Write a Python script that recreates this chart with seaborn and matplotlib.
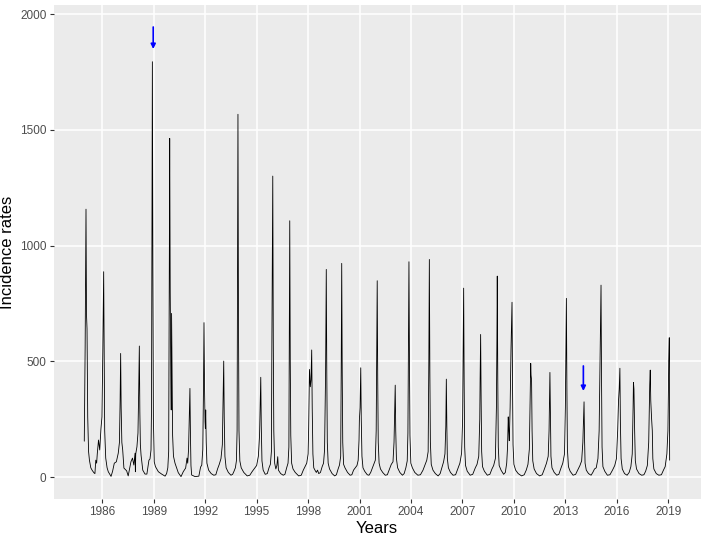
import matplotlib
matplotlib.use("Agg")
import matplotlib.pyplot as plt
import seaborn as sns
import pandas as pd

# ---------------- Data (decimal year, incidence rate) ----------------
pts_1985_1994 = [
    (1984.95, 155), (1985.00, 560), (1985.05, 1157), (1985.08, 700), (1985.11, 640),
    (1985.15, 260), (1985.20, 110), (1985.25, 73), (1985.33, 40), (1985.42, 28),
    (1985.52, 18), (1985.57, 15), (1985.62, 73), (1985.67, 60), (1985.71, 103),
    (1985.78, 160), (1985.85, 117), (1985.92, 207), (1985.98, 260),
    (1986.03, 540), (1986.08, 887), (1986.11, 520), (1986.14, 200), (1986.20, 82),
    (1986.28, 40), (1986.35, 23), (1986.51, 3), (1986.60, 25), (1986.70, 60),
    (1986.82, 66), (1986.93, 103), (1987.00, 150),
    (1987.04, 330), (1987.07, 534), (1987.10, 300), (1987.14, 150), (1987.19, 117),
    (1987.26, 39), (1987.42, 27), (1987.51, 5), (1987.60, 40), (1987.67, 66),
    (1987.76, 82), (1987.84, 52), (1987.91, 103), (1987.93, 23), (1987.95, 100),
    (1988.02, 131), (1988.08, 190),
    (1988.12, 360), (1988.16, 566), (1988.19, 280), (1988.22, 140), (1988.26, 95),
    (1988.36, 30), (1988.49, 13), (1988.60, 13), (1988.72, 73), (1988.78, 78),
    (1988.84, 117), (1988.87, 300),
    (1988.90, 1100), (1988.92, 1794), (1988.95, 900), (1988.98, 250), (1989.03, 65),
    (1989.10, 45), (1989.27, 23), (1989.46, 13), (1989.66, 4), (1989.75, 15),
    (1989.82, 40), (1989.87, 110),
    (1989.89, 500), (1989.91, 950), (1989.93, 1463), (1989.96, 800), (1989.99, 500),
    (1990.02, 290), (1990.04, 707), (1990.07, 450), (1990.10, 180), (1990.15, 90),
    (1990.24, 60), (1990.43, 19), (1990.59, 2), (1990.72, 23), (1990.86, 39),
    (1990.94, 82), (1990.98, 60), (1991.03, 120),
    (1991.07, 250), (1991.11, 383), (1991.14, 180), (1991.17, 50), (1991.21, 9),
    (1991.41, 2), (1991.63, 4), (1991.73, 43), (1991.80, 52), (1991.86, 120),
    (1991.90, 380), (1991.93, 667), (1991.96, 400), (1991.99, 240), (1992.01, 210),
    (1992.03, 290), (1992.06, 150), (1992.10, 60), (1992.20, 30), (1992.35, 15),
    (1992.50, 8), (1992.62, 10), (1992.72, 35), (1992.82, 55), (1992.92, 80),
    (1993.00, 140),
    (1993.04, 320), (1993.08, 501), (1993.11, 260), (1993.15, 90), (1993.22, 40),
    (1993.35, 20), (1993.50, 8), (1993.60, 12), (1993.68, 25), (1993.76, 40),
    (1993.82, 70), (1993.86, 200),
    (1993.88, 800), (1993.91, 1567), (1993.94, 700), (1993.97, 200), (1994.02, 70),
    (1994.10, 40), (1994.25, 20), (1994.45, 5), (1994.60, 8), (1994.75, 25),
    (1994.90, 40),
]

pts_1995_2004 = [
    (1995.00, 50), (1995.10, 90), (1995.17, 180),
    (1995.21, 330), (1995.24, 431), (1995.27, 220), (1995.31, 70), (1995.38, 30),
    (1995.50, 12), (1995.62, 15), (1995.72, 40), (1995.80, 55), (1995.86, 110),
    (1995.89, 600), (1995.94, 1300), (1995.97, 600), (1996.00, 200), (1996.05, 60),
    (1996.12, 35), (1996.18, 50), (1996.23, 88), (1996.27, 30), (1996.40, 15),
    (1996.55, 8), (1996.65, 12), (1996.75, 40), (1996.83, 60), (1996.88, 130),
    (1996.90, 500), (1996.93, 1107), (1996.96, 500), (1996.99, 180), (1997.04, 60),
    (1997.12, 35), (1997.25, 20), (1997.45, 5), (1997.60, 8), (1997.72, 30),
    (1997.82, 45), (1997.92, 60), (1998.00, 100),
    (1998.03, 200), (1998.06, 350), (1998.08, 465), (1998.13, 390), (1998.17, 420),
    (1998.21, 549), (1998.24, 300), (1998.28, 100), (1998.33, 40), (1998.40, 30),
    (1998.48, 20), (1998.55, 30), (1998.62, 15), (1998.72, 20), (1998.82, 45),
    (1998.90, 60), (1998.96, 117),
    (1999.02, 450), (1999.06, 897), (1999.09, 450), (1999.12, 150), (1999.17, 60),
    (1999.25, 35), (1999.40, 15), (1999.55, 5), (1999.65, 10), (1999.75, 35),
    (1999.83, 52), (1999.90, 90),
    (1999.93, 450), (1999.96, 923), (1999.99, 450), (2000.02, 150), (2000.07, 55),
    (2000.15, 40), (2000.30, 20), (2000.45, 8), (2000.55, 10), (2000.65, 30),
    (2000.75, 40), (2000.85, 50), (2000.92, 73), (2000.97, 160),
    (2000.99, 246), (2001.03, 300), (2001.07, 472), (2001.10, 250), (2001.14, 90),
    (2001.20, 40), (2001.30, 25), (2001.45, 10), (2001.55, 8), (2001.65, 20),
    (2001.75, 40), (2001.85, 60), (2001.92, 73), (2001.97, 200),
    (2002.00, 500), (2002.03, 848), (2002.06, 420), (2002.09, 150), (2002.14, 60),
    (2002.22, 35), (2002.35, 20), (2002.50, 8), (2002.62, 10), (2002.75, 35),
    (2002.85, 55), (2002.95, 66), (2003.01, 150),
    (2003.05, 300), (2003.08, 397), (2003.11, 200), (2003.15, 80), (2003.22, 40),
    (2003.35, 20), (2003.50, 8), (2003.60, 15), (2003.70, 40), (2003.78, 70),
    (2003.82, 190),
    (2003.85, 550), (2003.88, 930), (2003.91, 500), (2003.94, 180), (2003.99, 60),
    (2004.08, 40), (2004.22, 20), (2004.40, 8), (2004.55, 10), (2004.70, 30),
    (2004.80, 50), (2004.92, 73),
]

pts_2005_2019 = [
    (2005.00, 110), (2005.04, 500), (2005.07, 940), (2005.10, 450), (2005.13, 150),
    (2005.18, 55), (2005.28, 30), (2005.42, 15), (2005.58, 5), (2005.70, 15),
    (2005.80, 40), (2005.90, 66), (2005.98, 100), (2006.03, 220),
    (2006.06, 423), (2006.09, 220), (2006.12, 80), (2006.18, 40), (2006.30, 20),
    (2006.45, 8), (2006.60, 10), (2006.75, 40), (2006.85, 60), (2006.95, 103),
    (2007.01, 250),
    (2007.04, 550), (2007.07, 816), (2007.10, 400), (2007.13, 130), (2007.18, 50),
    (2007.28, 25), (2007.45, 8), (2007.60, 12), (2007.75, 40), (2007.85, 55),
    (2007.95, 90), (2008.01, 250),
    (2008.03, 420), (2008.06, 616), (2008.09, 330), (2008.12, 110), (2008.17, 45),
    (2008.28, 25), (2008.45, 8), (2008.60, 12), (2008.72, 35), (2008.82, 50),
    (2008.92, 80), (2008.98, 300),
    (2009.01, 600), (2009.03, 868), (2009.06, 420), (2009.09, 130), (2009.14, 50),
    (2009.25, 30), (2009.40, 12), (2009.50, 20), (2009.58, 60), (2009.63, 130),
    (2009.67, 260), (2009.70, 200), (2009.73, 157), (2009.78, 300), (2009.83, 550),
    (2009.89, 755), (2009.92, 400), (2009.95, 140), (2010.00, 55), (2010.10, 30),
    (2010.25, 15), (2010.45, 5), (2010.60, 10), (2010.72, 30), (2010.82, 55),
    (2010.90, 120),
    (2010.94, 300), (2010.98, 491), (2011.00, 440), (2011.03, 420), (2011.06, 200),
    (2011.10, 70), (2011.18, 35), (2011.32, 15), (2011.50, 5), (2011.65, 10),
    (2011.78, 35), (2011.90, 60), (2012.00, 90), (2012.05, 200),
    (2012.10, 452), (2012.13, 250), (2012.16, 90), (2012.22, 40), (2012.35, 20),
    (2012.50, 8), (2012.62, 12), (2012.75, 40), (2012.85, 60), (2012.95, 100),
    (2013.00, 300),
    (2013.03, 550), (2013.06, 772), (2013.09, 380), (2013.12, 120), (2013.18, 45),
    (2013.28, 25), (2013.45, 8), (2013.60, 12), (2013.72, 30), (2013.85, 50),
    (2013.95, 70), (2014.02, 150),
    (2014.06, 250), (2014.09, 325), (2014.12, 160), (2014.15, 60), (2014.22, 30),
    (2014.35, 15), (2014.50, 8), (2014.60, 20), (2014.70, 35), (2014.80, 40),
    (2014.90, 80), (2014.97, 200),
    (2015.02, 500), (2015.08, 829), (2015.11, 420), (2015.14, 130), (2015.19, 45),
    (2015.30, 25), (2015.45, 8), (2015.60, 10), (2015.75, 30), (2015.88, 50),
    (2015.98, 80), (2016.05, 200), (2016.10, 330),
    (2016.14, 380), (2016.18, 470), (2016.21, 230), (2016.25, 80), (2016.32, 35),
    (2016.45, 15), (2016.60, 8), (2016.72, 20), (2016.82, 45), (2016.90, 100),
    (2016.95, 300),
    (2016.97, 409), (2017.00, 380), (2017.04, 200), (2017.08, 70), (2017.15, 35),
    (2017.30, 15), (2017.45, 8), (2017.58, 10), (2017.68, 25), (2017.78, 50),
    (2017.86, 150),
    (2017.92, 400), (2017.95, 462), (2017.98, 330), (2018.03, 250), (2018.07, 200),
    (2018.10, 80), (2018.16, 35), (2018.30, 15), (2018.45, 8), (2018.60, 10),
    (2018.72, 30), (2018.82, 45), (2018.92, 100), (2018.98, 200),
    (2019.03, 500), (2019.06, 602), (2019.08, 73),
]

# arrows marking two seasons: (year, start value, tip value)
arrows = [(1988.97, 1944, 1849), (2014.05, 480, 372)]

year_breaks = [1986, 1989, 1992, 1995, 1998, 2001, 2004, 2007, 2010, 2013, 2016, 2019]
rate_breaks = [0, 500, 1000, 1500, 2000]

df = pd.DataFrame(pts_1985_1994 + pts_1995_2004 + pts_2005_2019, columns=["year", "rate"])

# ---------------- Style (ggplot grey look) ----------------
sns.set_theme(style="darkgrid", rc={
    "axes.facecolor": "#EBEBEB",
    "grid.color": "white",
    "grid.linewidth": 1.1,
    "axes.edgecolor": "#EBEBEB",
})
plt.rcParams["font.family"] = ["Liberation Sans Narrow", "Liberation Sans", "DejaVu Sans"]

fig = plt.figure(figsize=(7.06, 5.41), dpi=100)
ax = fig.add_axes([53.5 / 706, 1 - 499.3 / 541, 647 / 706, 494.3 / 541])

sns.lineplot(data=df, x="year", y="rate", color="black", linewidth=0.6, ax=ax)

for x, y0, y1 in arrows:
    ax.annotate("", xy=(x, y1), xytext=(x, y0),
                arrowprops=dict(arrowstyle="-|>", color="#0000FF", lw=1.2,
                                mutation_scale=7, shrinkA=0, shrinkB=0))

ax.set_xlim(1983.155, 2020.88)
ax.set_ylim(-96, 2039)
ax.set_xticks(year_breaks)
ax.set_xticklabels([str(y) for y in year_breaks])
ax.set_yticks(rate_breaks)
ax.grid(True, which="major")
for s in ax.spines.values():
    s.set_visible(False)

ax.tick_params(axis="both", which="major", length=3, width=0.8, color="#333333",
               labelcolor="#4D4D4D", labelsize=8.5, pad=2, bottom=True, left=True)
ax.set_xlabel("Years", fontsize=12, color="black", labelpad=2)
ax.set_ylabel("Incidence rates", fontsize=12, color="black", labelpad=4)

fig.savefig("out.png", dpi=100)
